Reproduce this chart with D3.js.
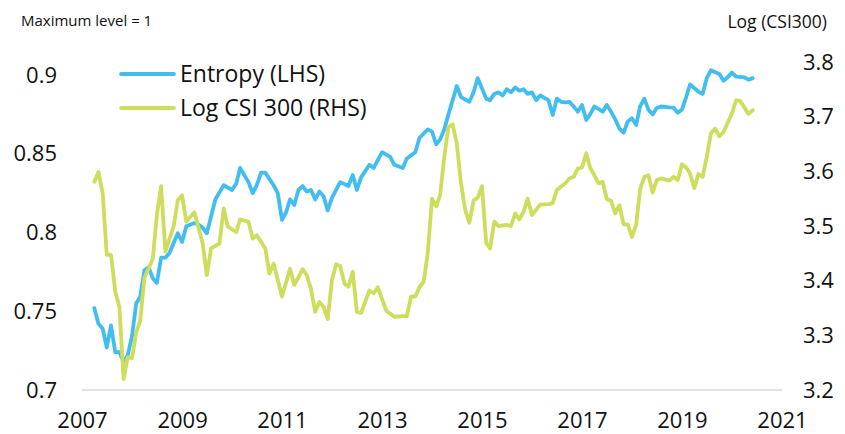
<!DOCTYPE html>
<html>
<head>
<meta charset="utf-8">
<script src="https://cdn.jsdelivr.net/npm/d3@7"></script>
<style>
  body { margin: 0; padding: 0; background: #fff; }
  svg text { font-family: "Open Sans", sans-serif; fill: #111; }
</style>
</head>
<body>
<div id="chart"></div>
<script>
// entropy index, left axis
const entropy = [
  ["2007-04",0.752],["2007-05",0.742],["2007-06",0.739],["2007-07",0.727],["2007-08",0.741],
  ["2007-09",0.724],["2007-10",0.724],["2007-11",0.718],["2007-12",0.722],["2008-01",0.734],
  ["2008-02",0.755],["2008-03",0.759],["2008-04",0.776],["2008-05",0.778],["2008-06",0.771],
  ["2008-07",0.768],["2008-08",0.784],["2008-09",0.784],["2008-10",0.787],["2008-12",0.7995],
  ["2009-01",0.794],["2009-02",0.804],["2009-04",0.806],["2009-05",0.805],["2009-06",0.803],
  ["2009-07",0.7995],["2009-09",0.821],["2009-11",0.830],["2010-01",0.827],["2010-02",0.831],
  ["2010-03",0.841],["2010-05",0.832],["2010-06",0.825],["2010-07",0.830],["2010-08",0.838],
  ["2010-09",0.838],["2010-11",0.830],["2010-12",0.825],["2011-01",0.808],["2011-02",0.813],
  ["2011-03",0.821],["2011-04",0.8175],["2011-05",0.827],["2011-06",0.8295],["2011-07",0.826],
  ["2011-08",0.827],["2011-09",0.821],["2011-10",0.826],["2011-11",0.823],["2011-12",0.814],
  ["2012-01",0.822],["2012-03",0.832],["2012-05",0.8295],["2012-06",0.8365],["2012-07",0.827],
  ["2012-08",0.835],["2012-10",0.843],["2012-11",0.841],["2013-01",0.851],["2013-03",0.848],
  ["2013-04",0.843],["2013-06",0.841],["2013-07",0.847],["2013-09",0.851],["2013-10",0.860],
  ["2013-12",0.8655],["2014-01",0.864],["2014-02",0.856],["2014-03",0.859],["2014-04",0.8655],
  ["2014-05",0.875],["2014-06",0.884],["2014-07",0.893],["2014-08",0.886],["2014-10",0.883],
  ["2014-11",0.889],["2014-12",0.898],["2015-02",0.885],["2015-03",0.884],["2015-04",0.888],
  ["2015-05",0.889],["2015-06",0.887],["2015-07",0.891],["2015-08",0.889],["2015-09",0.892],
  ["2015-10",0.890],["2015-11",0.891],["2015-12",0.888],["2016-01",0.889],["2016-02",0.884],
  ["2016-03",0.887],["2016-05",0.884],["2016-06",0.8746],["2016-07",0.885],["2016-08",0.883],
  ["2016-09",0.8826],["2016-10",0.883],["2016-11",0.880],["2016-12",0.8767],["2017-01",0.881],
  ["2017-02",0.8714],["2017-03",0.875],["2017-04",0.880],["2017-06",0.8767],["2017-07",0.881],
  ["2017-08",0.8767],["2017-09",0.8718],["2017-10",0.866],["2017-11",0.8634],["2017-12",0.8705],
  ["2018-01",0.8725],["2018-02",0.8683],["2018-03",0.880],["2018-04",0.885],["2018-05",0.878],
  ["2018-06",0.875],["2018-07",0.879],["2018-08",0.880],["2018-10",0.8794],["2018-11",0.8793],
  ["2018-12",0.876],["2019-01",0.878],["2019-02",0.886],["2019-03",0.894],["2019-05",0.8895],
  ["2019-06",0.888],["2019-07",0.898],["2019-08",0.903],["2019-10",0.9006],["2019-11",0.8964],
  ["2019-12",0.8985],["2020-01",0.9015],["2020-02",0.899],["2020-04",0.8985],["2020-05",0.897],
  ["2020-06",0.898]
];

// log CSI 300, right axis
const logCsi = [
  ["2007-04",3.581],["2007-05",3.599],["2007-06",3.560],["2007-07",3.447],["2007-08",3.447],
  ["2007-09",3.38],["2007-10",3.352],["2007-11",3.220],["2007-12",3.26],["2008-01",3.258],
  ["2008-02",3.305],["2008-03",3.326],["2008-04",3.405],["2008-06",3.44],["2008-07",3.52],
  ["2008-08",3.573],["2008-09",3.453],["2008-11",3.50],["2008-12",3.547],["2009-01",3.556],
  ["2009-02",3.508],["2009-04",3.525],["2009-06",3.468],["2009-07",3.41],["2009-08",3.459],
  ["2009-10",3.468],["2009-11",3.532],["2009-12",3.499],["2010-02",3.489],["2010-03",3.512],
  ["2010-05",3.508],["2010-06",3.477],["2010-07",3.483],["2010-09",3.459],["2010-10",3.413],
  ["2010-11",3.431],["2011-01",3.371],["2011-03",3.422],["2011-04",3.392],["2011-06",3.421],
  ["2011-07",3.410],["2011-08",3.385],["2011-09",3.343],["2011-10",3.361],["2011-11",3.352],
  ["2011-12",3.330],["2012-01",3.401],["2012-02",3.430],["2012-03",3.427],["2012-04",3.395],
  ["2012-05",3.389],["2012-06",3.416],["2012-07",3.343],["2012-08",3.341],["2012-10",3.382],
  ["2012-11",3.377],["2012-12",3.388],["2013-02",3.345],["2013-04",3.334],["2013-06",3.335],
  ["2013-07",3.335],["2013-08",3.371],["2013-09",3.371],["2013-10",3.388],["2013-11",3.398],
  ["2013-12",3.45],["2014-01",3.55],["2014-02",3.536],["2014-03",3.556],["2014-04",3.627],
  ["2014-05",3.681],["2014-06",3.686],["2014-07",3.651],["2014-08",3.578],["2014-09",3.529],
  ["2014-10",3.506],["2014-11",3.547],["2014-12",3.552],["2015-01",3.573],["2015-02",3.469],
  ["2015-03",3.459],["2015-04",3.508],["2015-05",3.500],["2015-07",3.502],["2015-08",3.500],
  ["2015-09",3.523],["2015-10",3.512],["2015-11",3.526],["2015-12",3.55],["2016-01",3.52],
  ["2016-03",3.539],["2016-05",3.540],["2016-06",3.542],["2016-07",3.566],["2016-09",3.578],
  ["2016-10",3.587],["2016-11",3.590],["2016-12",3.605],["2017-01",3.607],["2017-02",3.633],
  ["2017-03",3.607],["2017-04",3.593],["2017-05",3.578],["2017-06",3.581],["2017-07",3.549],
  ["2017-08",3.546],["2017-09",3.523],["2017-10",3.538],["2017-11",3.503],["2017-12",3.503],
  ["2018-01",3.48],["2018-02",3.503],["2018-03",3.567],["2018-04",3.59],["2018-05",3.593],
  ["2018-06",3.561],["2018-07",3.584],["2018-08",3.587],["2018-10",3.583],["2018-11",3.590],
  ["2018-12",3.584],["2019-01",3.613],["2019-02",3.607],["2019-03",3.596],["2019-04",3.569],
  ["2019-05",3.595],["2019-06",3.590],["2019-07",3.626],["2019-08",3.670],["2019-09",3.678],
  ["2019-10",3.664],["2019-11",3.672],["2020-01",3.706],["2020-02",3.730],["2020-03",3.729],
  ["2020-05",3.705],["2020-06",3.712]
];

const yearTicks = [2007, 2009, 2011, 2013, 2015, 2017, 2019, 2021];
const leftTicks = [0.7, 0.75, 0.8, 0.85, 0.9];
const rightTicks = [3.2, 3.3, 3.4, 3.5, 3.6, 3.7, 3.8];
const seriesNames = ["Entropy (LHS)", "Log CSI 300 (RHS)"];

const width = 845, height = 434;
const blue = "#41bdf0", green = "#cedd5c";
const parse = d3.timeParse("%Y-%m");

const svg = d3.select("#chart").append("svg").attr("width", width).attr("height", height);

const x = d3.scaleTime().domain([new Date(2007, 0, 1), new Date(2021, 0, 1)]).range([82, 782]);
const yL = d3.scaleLinear().domain([0.7, 0.9]).range([390, 75]);
const yR = d3.scaleLinear().domain([3.2, 3.8]).range([390, 62]);

// baseline
svg.append("line")
  .attr("x1", x.range()[0]).attr("x2", x.range()[1])
  .attr("y1", yL(0.7)).attr("y2", yL(0.7))
  .attr("stroke", "#d9d9d9").attr("stroke-width", 1.5);

// x axis
const xAxis = svg.append("g").attr("transform", "translate(0,412)")
  .call(d3.axisBottom(x).tickValues(yearTicks.map(y => new Date(y, 0, 1)))
    .tickFormat(d3.timeFormat("%Y")).tickSize(0).tickPadding(0));
xAxis.select(".domain").remove();
xAxis.selectAll("text").attr("font-size", 22).attr("font-family", "Open Sans").attr("fill", "#111")
  .attr("dy", "0.71em");

// left axis
const lAxis = svg.append("g").attr("transform", "translate(57,0)")
  .call(d3.axisLeft(yL).tickValues(leftTicks).tickFormat(d => d3.format("")(+d.toFixed(2)))
    .tickSize(0).tickPadding(0));
lAxis.select(".domain").remove();
lAxis.selectAll("text").attr("font-size", 22).attr("font-family", "Open Sans").attr("fill", "#111");

// right axis
const rAxis = svg.append("g").attr("transform", "translate(803,0)")
  .call(d3.axisRight(yR).tickValues(rightTicks).tickFormat(d3.format(".1f"))
    .tickSize(0).tickPadding(0));
rAxis.select(".domain").remove();
rAxis.selectAll("text").attr("font-size", 22).attr("font-family", "Open Sans").attr("fill", "#111");

// axis titles
svg.append("text").attr("x", 21).attr("y", 26).attr("font-size", 15).text("Maximum level = 1");
svg.append("text").attr("x", 827).attr("y", 28).attr("font-size", 17.5)
  .attr("text-anchor", "end").text("Log (CSI300)");

// lines
const lineL = d3.line().x(d => x(parse(d[0]))).y(d => yL(d[1]));
const lineR = d3.line().x(d => x(parse(d[0]))).y(d => yR(d[1]));

svg.append("path").datum(entropy).attr("d", lineL)
  .attr("fill", "none").attr("stroke", blue).attr("stroke-width", 3.8)
  .attr("stroke-linejoin", "round").attr("stroke-linecap", "round");
svg.append("path").datum(logCsi).attr("d", lineR)
  .attr("fill", "none").attr("stroke", green).attr("stroke-width", 3.8)
  .attr("stroke-linejoin", "round").attr("stroke-linecap", "round");

// legend
const legend = svg.append("g");
[blue, green].forEach((c, i) => {
  const ly = 74 + i * 34;
  legend.append("line").attr("x1", 121).attr("x2", 174).attr("y1", ly).attr("y2", ly)
    .attr("stroke", c).attr("stroke-width", 3.8).attr("stroke-linecap", "round");
  legend.append("text").attr("x", 180).attr("y", ly).attr("dy", "0.35em")
    .attr("font-size", 23).text(seriesNames[i]);
});
</script>
</body>
</html>
